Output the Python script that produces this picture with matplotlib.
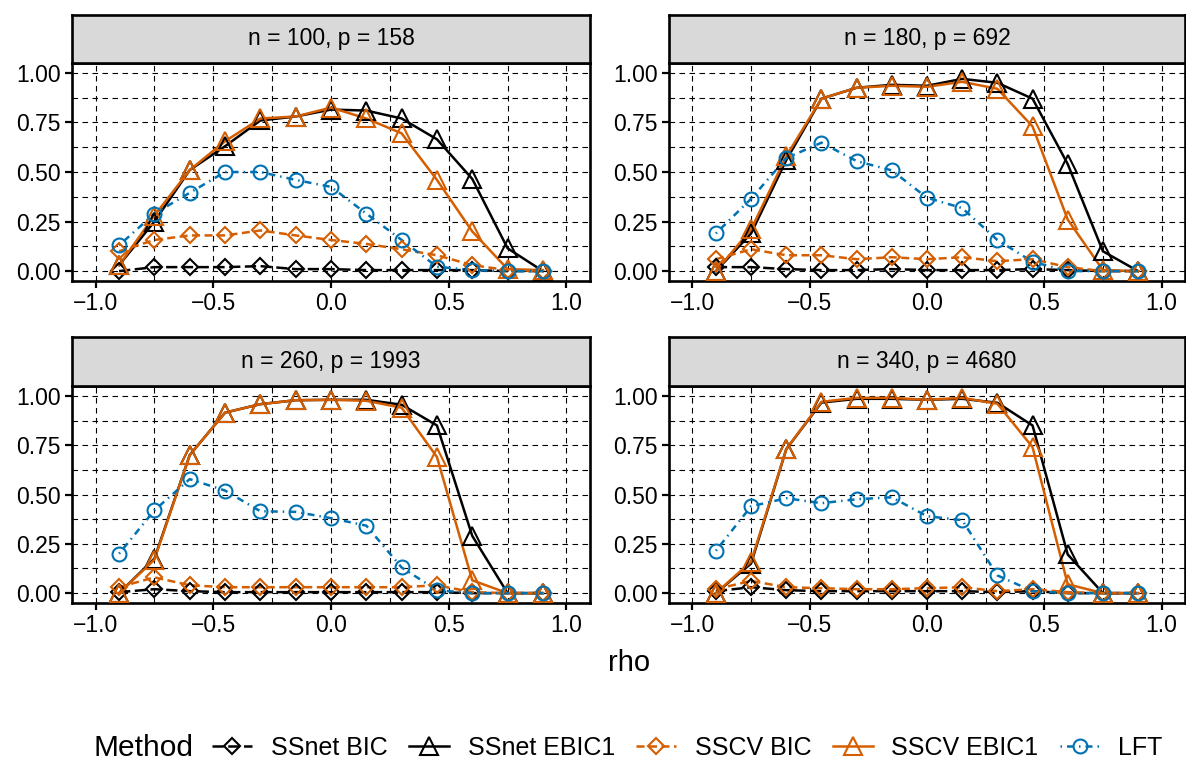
import numpy as np
import matplotlib
matplotlib.use("Agg")
import matplotlib.pyplot as plt
from matplotlib.lines import Line2D

plt.rcParams['font.family'] = ['Liberation Sans', 'DejaVu Sans']

rho = [-0.9, -0.75, -0.6, -0.45, -0.3, -0.15, 0.0, 0.15, 0.3, 0.45, 0.6, 0.75, 0.9]

panel_titles = ["n = 100, p = 158", "n = 180, p = 692",
                "n = 260, p = 1993", "n = 340, p = 4680"]

methods = ["SSnet BIC", "SSnet EBIC1", "SSCV BIC", "SSCV EBIC1", "LFT"]

# panel 1: n = 100, p = 158
p1_ssnet_bic = [0.00, 0.02, 0.02, 0.02, 0.025, 0.01, 0.01, 0.005, 0.005, 0.005, 0.005, 0.0, 0.0]
p1_ssnet_ebic = [0.03, 0.25, 0.51, 0.63, 0.76, 0.78, 0.815, 0.81, 0.77, 0.665, 0.465, 0.115, 0.0]
p1_sscv_bic = [0.10, 0.157, 0.18, 0.18, 0.205, 0.18, 0.157, 0.137, 0.11, 0.08, 0.03, 0.005, 0.0]
p1_sscv_ebic = [0.03, 0.28, 0.51, 0.655, 0.77, 0.78, 0.825, 0.77, 0.695, 0.46, 0.20, 0.01, 0.005]
p1_lft = [0.13, 0.29, 0.395, 0.50, 0.50, 0.46, 0.425, 0.29, 0.157, 0.022, 0.005, 0.0, 0.0]

# panel 2: n = 180, p = 692
p2_ssnet_bic = [0.02, 0.02, 0.01, 0.005, 0.005, 0.01, 0.005, 0.005, 0.005, 0.01, 0.005, 0.0, 0.0]
p2_ssnet_ebic = [0.0, 0.19, 0.56, 0.87, 0.925, 0.94, 0.935, 0.97, 0.95, 0.87, 0.54, 0.10, 0.0]
p2_sscv_bic = [0.06, 0.11, 0.08, 0.08, 0.06, 0.07, 0.06, 0.07, 0.05, 0.06, 0.02, 0.0, 0.0]
p2_sscv_ebic = [0.0, 0.21, 0.58, 0.87, 0.925, 0.935, 0.93, 0.955, 0.92, 0.73, 0.26, 0.005, 0.0]
p2_lft = [0.19, 0.365, 0.57, 0.648, 0.555, 0.508, 0.37, 0.318, 0.157, 0.047, 0.0, 0.0, 0.0]

# panel 3: n = 260, p = 1993
p3_ssnet_bic = [0.005, 0.02, 0.01, 0.005, 0.005, 0.005, 0.005, 0.005, 0.005, 0.005, 0.0, 0.0, 0.0]
p3_ssnet_ebic = [0.0, 0.175, 0.70, 0.915, 0.958, 0.978, 0.98, 0.98, 0.955, 0.85, 0.29, 0.0, 0.0]
p3_sscv_bic = [0.03, 0.08, 0.04, 0.03, 0.03, 0.03, 0.03, 0.03, 0.03, 0.04, 0.005, 0.0, 0.0]
p3_sscv_ebic = [0.0, 0.17, 0.70, 0.915, 0.958, 0.978, 0.98, 0.975, 0.94, 0.69, 0.065, 0.0, 0.0]
p3_lft = [0.20, 0.42, 0.578, 0.52, 0.415, 0.412, 0.38, 0.342, 0.13, 0.015, 0.0, 0.0, 0.0]

# panel 4: n = 340, p = 4680
p4_ssnet_bic = [0.01, 0.03, 0.015, 0.01, 0.01, 0.01, 0.01, 0.01, 0.005, 0.01, 0.0, 0.0, 0.0]
p4_ssnet_ebic = [0.0, 0.15, 0.73, 0.966, 0.985, 0.985, 0.98, 0.985, 0.965, 0.85, 0.196, 0.0, 0.0]
p4_sscv_bic = [0.02, 0.062, 0.03, 0.025, 0.02, 0.02, 0.025, 0.03, 0.01, 0.02, 0.005, 0.0, 0.0]
p4_sscv_ebic = [0.0, 0.16, 0.73, 0.97, 0.99, 0.99, 0.98, 0.99, 0.96, 0.74, 0.045, 0.0, 0.0]
p4_lft = [0.215, 0.44, 0.481, 0.456, 0.476, 0.486, 0.39, 0.37, 0.09, 0.01, 0.0, 0.0, 0.0]

panel_data = [
    [p1_ssnet_bic, p1_ssnet_ebic, p1_sscv_bic, p1_sscv_ebic, p1_lft],
    [p2_ssnet_bic, p2_ssnet_ebic, p2_sscv_bic, p2_sscv_ebic, p2_lft],
    [p3_ssnet_bic, p3_ssnet_ebic, p3_sscv_bic, p3_sscv_ebic, p3_lft],
    [p4_ssnet_bic, p4_ssnet_ebic, p4_sscv_bic, p4_sscv_ebic, p4_lft],
]

orange = "#D55E00"
blue = "#0072B2"
colors = ["black", "black", orange, orange, blue]
markers = ["D", "^", "D", "^", "o"]
msizes = [8.5, 12.5, 8.5, 12.5, 10]
lstyles = [(0, (4.5, 1.8)), "-", (0, (3.2, 1.8)), "-", (0, (0.6, 2.0, 2.8, 2.0))]

W, H = 1186, 765
fig = plt.figure(figsize=(W / 100, H / 100), dpi=100)


def fx(px):
    return px / W


def fy(py):
    return 1 - py / H


# (left, right, strip_top, plot_top, plot_bottom) in pixels
boxes = [
    (72, 590, 15, 63, 281),
    (669, 1185, 15, 63, 281),
    (72, 590, 337, 386, 603),
    (669, 1185, 337, 386, 603),
]

xticks = [-1.0, -0.5, 0.0, 0.5, 1.0]
xlabels = ["\u22121.0", "\u22120.5", "0.0", "0.5", "1.0"]
yticks = [0, 0.25, 0.5, 0.75, 1.0]
ylabels = ["0.00", "0.25", "0.50", "0.75", "1.00"]

for k, (l, r, st, pt, pb) in enumerate(boxes):
    ax = fig.add_axes([fx(l), fy(pb), fx(r - l), (pb - pt) / H])
    ax.set_xlim(-1.1, 1.1)
    ax.set_ylim(-0.05, 1.05)
    for x in [-1.0, -0.75, -0.5, -0.25, 0.0, 0.25, 0.5, 0.75, 1.0]:
        ax.axvline(x, color="black", lw=0.8, ls=(0, (5, 4)), zorder=0)
    for y in [0, 0.125, 0.25, 0.375, 0.5, 0.625, 0.75, 0.875, 1.0]:
        ax.axhline(y, color="black", lw=0.8, ls=(0, (5, 4)), zorder=0)

    series = panel_data[k]
    for i in range(5):
        ax.plot(rho, series[i], color=colors[i], lw=1.8, ls=lstyles[i], zorder=2)
    for i in range(5):
        ax.plot(rho, series[i], ls="none", marker=markers[i], ms=msizes[i],
                mfc="none", mec=colors[i], mew=1.5, zorder=3)

    ax.set_xticks(xticks)
    ax.set_xticklabels(xlabels)
    ax.set_yticks(yticks)
    ax.set_yticklabels(ylabels)
    ax.tick_params(axis="both", labelsize=16.5, length=5, width=1.6,
                   color="black", labelcolor="black", pad=3)
    for s in ax.spines.values():
        s.set_linewidth(1.9)
        s.set_color("black")

    sax = fig.add_axes([fx(l), fy(pt), fx(r - l), (pt - st) / H])
    sax.set_facecolor("#D9D9D9")
    sax.set_xticks([])
    sax.set_yticks([])
    for s in sax.spines.values():
        s.set_linewidth(1.9)
        s.set_color("black")
    sax.text(0.5, 0.5, panel_titles[k], transform=sax.transAxes,
             ha="center", va="center", fontsize=16.5, color="black")

fig.text(fx(629), fy(663), "rho", ha="center", va="center", fontsize=21)

handles = []
for i in range(5):
    handles.append(Line2D([0], [0], color=colors[i], lw=1.8, ls=lstyles[i],
                          marker=markers[i], ms=msizes[i], mfc="none",
                          mec=colors[i], mew=1.5))

fig.text(fx(93), fy(748), "Method", ha="left", va="center", fontsize=21.5)
leg = fig.legend(handles, methods, loc="center left",
                 bbox_to_anchor=(fx(212), fy(748)), ncol=5, frameon=False,
                 fontsize=18, handlelength=1.6, handletextpad=0.75,
                 columnspacing=0.85, borderaxespad=0, borderpad=0)

fig.savefig("out.png", dpi=100)
